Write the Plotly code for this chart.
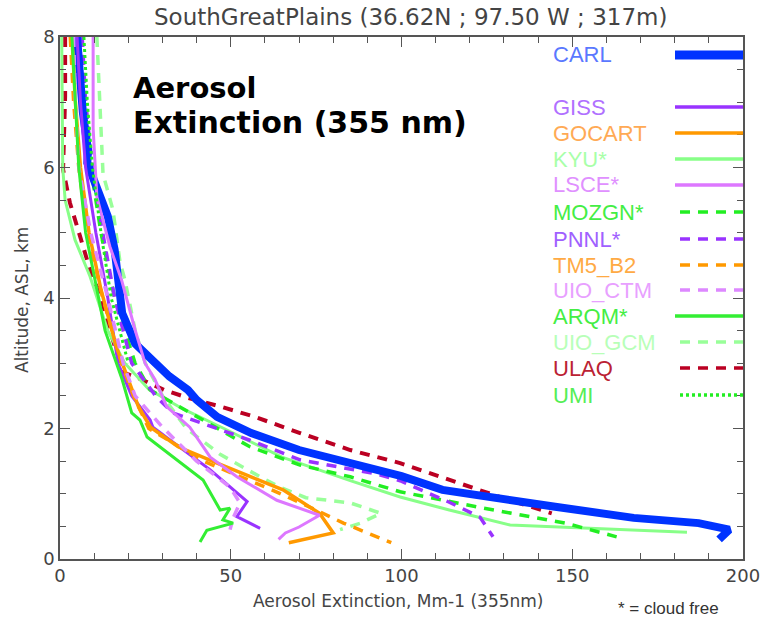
import plotly.graph_objects as go

# ---------------- data ----------------
models = ["CARL", "GISS", "GOCART", "KYU*", "LSCE*", "MOZGN*", "PNNL*",
          "TM5_B2", "UIO_CTM", "ARQM*", "UIO_GCM", "ULAQ", "UMI"]

carl_alt = [8.0, 7.35, 6.84, 6.27, 6.07, 5.77, 5.25, 4.74, 4.28, 3.77, 3.3, 3.0, 2.8, 2.59,
            2.44, 2.18, 2.03, 1.93, 1.67, 1.47, 1.27, 1.06, 0.94, 0.8, 0.63, 0.55, 0.45, 0.3]
carl_ext = [5, 5.9, 6.7, 8.2, 8.0, 10.2, 14, 16, 17, 18.2, 22, 27.8, 32, 37.5,
            40, 46, 52, 56, 70, 85, 100, 112, 129, 145, 168, 187, 196, 193]

giss_alt = [8.0, 7.0, 6.0, 5.0, 4.0, 3.0, 2.5, 2.13, 2.02, 1.37, 0.88, 0.65, 0.47]
giss_ext = [5, 6, 7.5, 10.5, 14, 17, 21, 26.4, 27.2, 43.9, 54.8, 51.8, 58.6]

gocart_alt = [8.0, 7.0, 6.0, 5.0, 4.13, 3.25, 2.75, 2.33, 2.02, 1.72, 1.47, 1.06, 0.7, 0.4, 0.25]
gocart_ext = [3.5, 4.5, 6, 8.5, 12, 16.5, 20, 23, 26.5, 34.6, 46, 65.3, 76, 80, 67]

kyu_alt = [8.0, 6.0, 5.5, 4.89, 4.33, 3.5, 3.0, 2.6, 2.3, 2.0, 1.56, 1.2, 0.95, 0.75, 0.52, 0.41]
kyu_ext = [0.5, 0.8, 1.5, 4.4, 8.8, 14, 19, 26, 36, 48, 65, 85, 99.6, 114, 131.8, 183.6]

lsce_alt = [8.0, 6.6, 5.55, 5.25, 4.79, 4.28, 3.51, 3.0, 2.75, 2.33, 2.02, 1.56, 1.26, 0.9,
            0.67, 0.49, 0.4, 0.3]
lsce_ext = [9.7, 9.7, 10.8, 12.3, 14.6, 18, 22, 24.9, 27.8, 31.3, 38, 44, 51.8, 63.5,
            76, 70, 66, 64]

mozgn_alt = [8.0, 6.0, 5.0, 4.0, 3.0, 2.59, 1.72, 1.44, 1.26, 1.03, 0.78, 0.55, 0.34]
mozgn_ext = [6, 9, 12, 16, 22, 26.4, 55.6, 70.3, 85, 99.6, 124, 148, 163]

pnnl_alt = [8.0, 7.0, 6.0, 5.0, 4.0, 3.0, 2.5, 2.24, 1.82, 1.52, 1.3, 1.2, 0.87, 0.64, 0.34]
pnnl_ext = [6.5, 7.5, 9.5, 12.5, 16, 21, 28, 33, 55.6, 70.3, 93, 99.6, 114, 123, 126.8]

tm5_alt = [8.0, 7.0, 6.0, 5.0, 4.0, 3.0, 2.5, 2.0, 1.5, 1.06, 0.75, 0.55, 0.25]
tm5_ext = [3, 4, 5.5, 8, 12.5, 18, 21.5, 26, 42, 62, 75, 83, 97]

uioctm_alt = [8.0, 7.0, 6.0, 5.0, 4.0, 3.0, 2.5, 2.02, 1.5, 1.1, 0.86, 0.63, 0.45]
uioctm_ext = [4, 4.5, 5.5, 9, 14, 18.5, 22, 30, 40, 49.8, 52.7, 50.7, 49.8]

arqm_alt = [8.0, 7.0, 6.0, 5.0, 4.28, 3.5, 2.75, 2.24, 2.13, 1.87, 1.21, 0.75, 0.78, 0.6,
            0.55, 0.44, 0.26]
arqm_ext = [3.5, 4.5, 5.5, 7.5, 10.2, 13.2, 18.2, 21, 23.4, 25.5, 41.9, 46.9, 49.8, 47.7,
            50.7, 43, 41]

uiogcm_alt = [8.0, 6.9, 5.9, 5.35, 4.54, 4.28, 3.5, 3.0, 2.5, 2.0, 1.6, 1.26, 1.1, 0.94,
              0.86, 0.7, 0.55, 0.45]
uiogcm_ext = [10.8, 11.7, 12.6, 15.5, 17.6, 19, 22, 25, 30, 37, 47, 58.6, 64.4, 72,
              85, 94, 88, 82]

ulaq_alt = [8.0, 7.09, 5.97, 5.46, 4.94, 4.43, 4.13, 3.77, 3.25, 2.85, 2.75, 2.59, 2.47, 2.33,
            2.18, 1.93, 1.67, 1.47, 1.21, 0.95, 0.7]
ulaq_ext = [1.5, 1.5, 0.9, 2.9, 5.9, 8.8, 11.1, 13.2, 16.1, 19, 24, 30.5, 37.5, 47.4,
            57, 70.3, 85, 99.6, 114, 128.8, 144]

umi_alt = [8.0, 7.0, 6.0, 5.0, 4.0, 3.0]
umi_ext = [7, 8, 9.5, 12, 15, 20]

x_ticks = [0, 50, 100, 150, 200]
y_ticks = [0, 2, 4, 6, 8]

# ---------------- styles ----------------
series = [
    ("CARL",    carl_ext,   carl_alt,   "#0033FF", "#5A78FF", "solid",        8),
    ("GISS",    giss_ext,   giss_alt,   "#9933FF", "#B070FF", "solid",        3),
    ("GOCART",  gocart_ext, gocart_alt, "#FF9900", "#FFAA55", "solid",        3.5),
    ("KYU*",    kyu_ext,    kyu_alt,    "#88FF88", "#A8FFA8", "solid",        3),
    ("LSCE*",   lsce_ext,   lsce_alt,   "#DD77FF", "#E090FF", "solid",        3),
    ("MOZGN*",  mozgn_ext,  mozgn_alt,  "#22EE22", "#44EE44", "10px,8px",     3.5),
    ("PNNL*",   pnnl_ext,   pnnl_alt,   "#9933FF", "#A060FF", "10px,8px",     3.5),
    ("TM5_B2",  tm5_ext,    tm5_alt,    "#FF9900", "#FFAA44", "10px,8px",     3.5),
    ("UIO_CTM", uioctm_ext, uioctm_alt, "#DD88FF", "#E8A0FF", "10px,8px",     3.5),
    ("ARQM*",   arqm_ext,   arqm_alt,   "#33EE33", "#44EE44", "solid",        3),
    ("UIO_GCM", uiogcm_ext, uiogcm_alt, "#99FF99", "#B8FFB8", "10px,8px",     3.5),
    ("ULAQ",    ulaq_ext,   ulaq_alt,   "#BB0022", "#BB2233", "10px,8px",     4),
    ("UMI",     umi_ext,    umi_alt,    "#22EE22", "#55EE55", "3px,3px",      3),
]

fig = go.Figure()
order = [11, 3, 10, 5, 6, 0, 1, 2, 7, 4, 8, 9, 12]
for i in order:
    name, xs, ys, col, tcol, dash, w = series[i]
    fig.add_trace(go.Scatter(x=xs, y=ys, mode="lines", name=name,
                             line=dict(color=col, width=w, dash=dash),
                             showlegend=False, hoverinfo="skip"))

L, R, T, B = 60, 743, 37, 559
W, H = R - L, B - T
def xp(x):
    return (x - L) / W
def yp(y):
    return (B - y) / H

leg_rows_px = [55, 107, 133, 159, 185, 212, 239, 265, 290, 316, 342, 368, 395]
annotations = []
shapes = []
for (name, xs, ys, col, tcol, dash, w), py in zip(series, leg_rows_px):
    annotations.append(dict(xref="paper", yref="paper", x=xp(551), y=yp(py),
                            text=name, showarrow=False, xanchor="left", yanchor="middle",
                            font=dict(family="Liberation Sans, Arial", size=22, color=tcol)))
    x0 = 675 if dash == "solid" else 680
    shapes.append(dict(type="line", xref="paper", yref="paper",
                       x0=xp(x0), x1=1.0, y0=yp(py), y1=yp(py),
                       line=dict(color=col, width=(9 if name == "CARL" else 3.5),
                                 dash=dash)))

annotations += [
    dict(xref="paper", yref="paper", x=xp(131), y=yp(88), text="<b>Aerosol</b>",
         showarrow=False, xanchor="left", yanchor="middle",
         font=dict(family="DejaVu Sans", size=29, color="black")),
    dict(xref="paper", yref="paper", x=xp(131), y=yp(122),
         text="<b>Extinction (355 nm)</b>", showarrow=False, xanchor="left", yanchor="middle",
         font=dict(family="DejaVu Sans", size=30, color="black")),
    dict(xref="paper", yref="paper", x=xp(410), y=yp(17),
         text="SouthGreatPlains (36.62N ; 97.50 W ; 317m)", showarrow=False,
         xanchor="center", yanchor="middle",
         font=dict(family="DejaVu Sans", size=23, color="#444")),
    dict(xref="paper", yref="paper", x=xp(398), y=yp(601),
         text="Aerosol Extinction, Mm-1 (355nm)", showarrow=False,
         xanchor="center", yanchor="middle",
         font=dict(family="DejaVu Sans", size=17, color="#444")),
    dict(xref="paper", yref="paper", x=xp(668), y=yp(608),
         text="* = cloud free", showarrow=False, xanchor="center", yanchor="middle",
         font=dict(family="Liberation Sans, Arial", size=17, color="#333")),
    dict(xref="paper", yref="paper", x=xp(22), y=yp(300),
         text="Altitude, ASL, km", showarrow=False, textangle=-90,
         xanchor="center", yanchor="middle",
         font=dict(family="DejaVu Sans", size=17, color="#444")),
]

axis_common = dict(showline=True, linecolor="#555", linewidth=1.5, mirror="ticks",
                   ticks="inside", ticklen=10, tickwidth=1.3, tickcolor="#555",
                   showgrid=False, zeroline=False, automargin=False,
                   ticklabeloverflow="allow",
                   tickfont=dict(family="DejaVu Sans", size=18, color="#444"))

fig.update_layout(
    width=761, height=622,
    margin=dict(l=L, r=761 - R, t=T, b=622 - B, autoexpand=False),
    paper_bgcolor="white", plot_bgcolor="white",
    xaxis=dict(range=[0, 200], tickvals=x_ticks, ticktext=[str(v) for v in x_ticks],
               minor=dict(dtick=10, ticks="inside", ticklen=6, tickcolor="#555", tickwidth=1.2),
               **axis_common),
    yaxis=dict(range=[0, 8], tickvals=y_ticks, ticktext=[str(v) for v in y_ticks],
               minor=dict(dtick=0.5, ticks="inside", ticklen=6, tickcolor="#555", tickwidth=1.2),
               **axis_common),
    annotations=annotations, shapes=shapes, showlegend=False,
)

fig.write_html("out.html")
